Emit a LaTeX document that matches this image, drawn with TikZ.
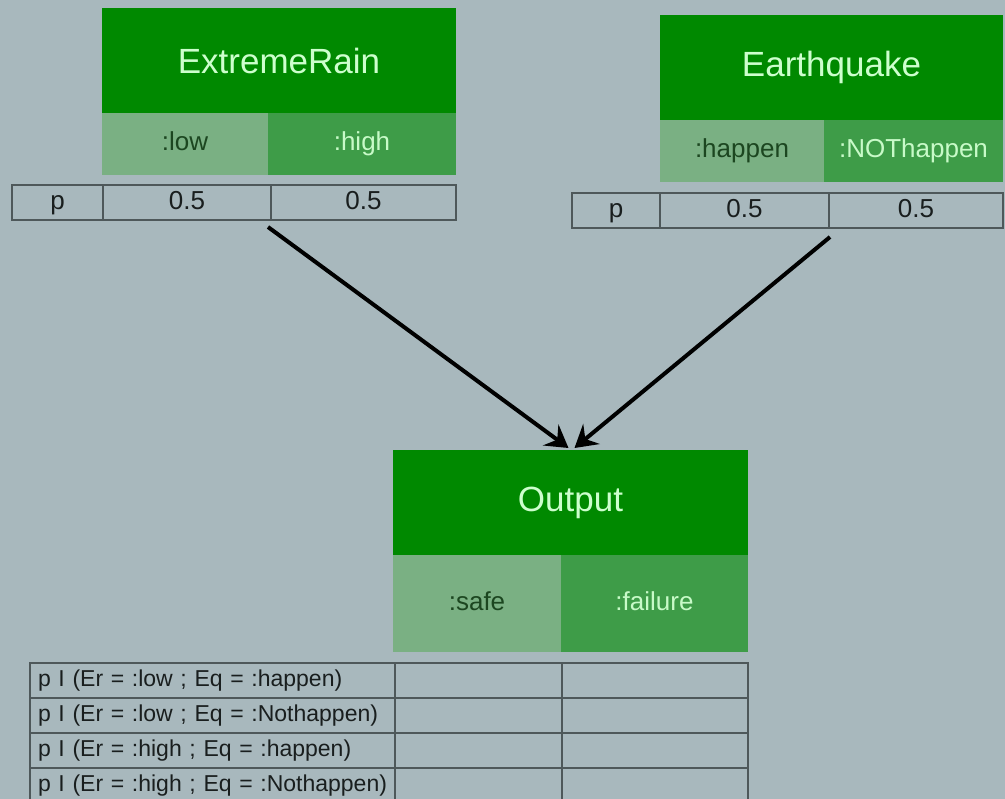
\documentclass[tikz,border=0pt]{standalone}
\usepackage{fontspec}
\setmainfont{Liberation Sans}
\usetikzlibrary{arrows.meta,calc}
\definecolor{bg}{RGB}{168,184,189}
\definecolor{hdrgreen}{RGB}{0,137,0}
\definecolor{lowcell}{RGB}{122,176,131}
\definecolor{highcell}{RGB}{62,156,72}
\definecolor{hdrtext}{RGB}{205,255,205}
\definecolor{lowtext}{RGB}{28,70,32}
\definecolor{hightext}{RGB}{200,250,200}
\definecolor{grid}{RGB}{78,88,90}
\definecolor{tabtext}{RGB}{25,30,30}
\tikzset{
  box/.style={rectangle, inner sep=0pt, outer sep=0pt},
  hdr/.style={box, fill=hdrgreen, text=hdrtext, font=\fontsize{35}{40}\selectfont, minimum height=105pt},
  lowc/.style={box, fill=lowcell, text=lowtext, font=\fontsize{26}{30}\selectfont, text height=19pt, text depth=5.5pt},
  highc/.style={box, fill=highcell, text=hightext, font=\fontsize{26}{30}\selectfont, text height=19pt, text depth=5.5pt},
  tcell/.style={box, draw=grid, line width=1.3pt, text=tabtext, font=\fontsize{26}{30}\selectfont, minimum height=35pt, text height=19pt, text depth=5.5pt},
  bcell/.style={box, draw=grid, line width=1.3pt, text=tabtext, font=\fontsize{23}{26}\selectfont, minimum height=35pt, text height=17pt, text depth=5pt},
  link/.style={line width=4pt, black, -{Stealth[length=22pt,width=26pt,inset=8pt]}}
}
\begin{document}
\begin{tikzpicture}[x=1pt,y=-1pt]
\fill[bg] (0,0) rectangle (1005,799);
\useasboundingbox (0,0) rectangle (1005,799);
% ExtremeRain
\node[hdr, minimum width=354pt] (er) at (279,60.5) {ExtremeRain};
\node[lowc, minimum width=166pt, minimum height=62pt] (erlow) at (185,144) {:low};
\node[highc, minimum width=188pt, minimum height=62pt] (erhigh) at (362,144) {:high};
\node[tcell, minimum width=91pt] (erp) at (57.5,202.5) {p};
\node[tcell, minimum width=168pt] (erv1) at (187,202.5) {0.5};
\node[tcell, minimum width=185pt] (erv2) at (363.5,202.5) {0.5};
% Earthquake
\node[hdr, minimum width=343pt] (eq) at (831.5,67.5) {Earthquake};
\node[lowc, minimum width=164pt, minimum height=62pt] (eqhap) at (742,151) {:happen};
\node[highc, minimum width=179pt, minimum height=62pt] (eqnot) at (913.5,151) {:NOThappen};
\node[tcell, minimum width=88pt] (eqp) at (616,210.5) {p};
\node[tcell, minimum width=169pt] (eqv1) at (744.5,210.5) {0.5};
\node[tcell, minimum width=174pt] (eqv2) at (916,210.5) {0.5};
% Output
\node[hdr, minimum width=355pt] (out) at (570.5,502.5) {Output};
\node[lowc, minimum width=168pt, minimum height=97pt] (safe) at (477,603.5) {:safe};
\node[highc, minimum width=187pt, minimum height=97pt] (fail) at (654.5,603.5) {:failure};
% conditional table
\foreach \i/\t in {1/{p I (Er = :low ; Eq = :happen)},2/{p I (Er = :low ; Eq = :Nothappen)},3/{p I (Er = :high ; Eq = :happen)},4/{p I (Er = :high ; Eq = :Nothappen)}}{
  \node[bcell, inner xsep=8pt, text width=349pt, align=left] (r\i a) at (212.5,645.5+35*\i) {\mbox{\t}};
  \node[bcell, minimum width=167pt] (r\i b) at (478.5,645.5+35*\i) {};
  \node[bcell, minimum width=186pt] (r\i c) at (655,645.5+35*\i) {};
}
% arrows
\coordinate (s1) at ($(erv2.south west)+(-3,7)$);
\coordinate (s2) at ($(eqv2.south west)+(1,9)$);
\coordinate (t1) at ($(out.north)+(-2,-2)$);
\coordinate (t2) at ($(out.north)+(4,-2)$);
\draw[link] (s1) -- (t1);
\draw[link] (s2) -- (t2);
\end{tikzpicture}
\end{document}
